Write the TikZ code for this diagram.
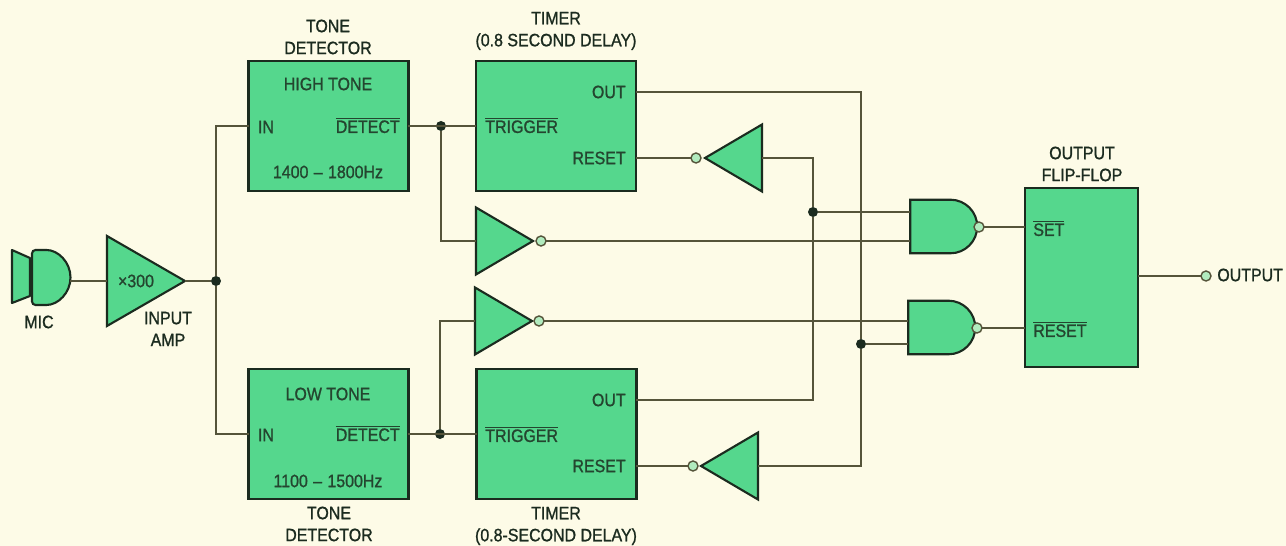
\documentclass[tikz,border=0pt]{standalone}
\usepackage{fontspec}
\setmainfont[FakeStretch=0.89,FakeBold=1.1]{Liberation Sans}
\usetikzlibrary{shapes.geometric,shapes.gates.logic.US}
\definecolor{paper}{HTML}{FDFBE7}
\definecolor{board}{HTML}{55D78D}
\definecolor{ink}{HTML}{1B2B1F}
\definecolor{wirecol}{HTML}{55543A}
\tikzset{
  lab/.style={font=\fontsize{10.2}{12.5}\selectfont,text=ink,inner sep=0pt,align=center},
  inlab/.style={lab,text=ink!85!board},
  blockbox/.style={draw=ink,fill=board,line width=1.5pt,minimum width=3.2cm,minimum height=2.6cm,outer sep=0pt},
  flopbox/.style={blockbox,minimum width=2.26cm,minimum height=3.58cm},
  wire/.style={draw=wirecol,line width=.8pt},
  joindot/.style={circle,fill=ink,inner sep=0pt,minimum size=.2cm},
  bubble/.style={circle,draw=wirecol,fill=board!45!paper,line width=.8pt,inner sep=0pt,minimum size=.2cm,outer sep=0pt},
  tri/.style={isosceles triangle,isosceles triangle stretches,draw=ink,fill=board,line width=1.2pt,inner sep=0pt,outer sep=0pt,minimum width=1.34cm,minimum height=1.14cm},
  ampshape/.style={tri,minimum width=1.8cm,minimum height=1.56cm},
  nandshape/.style={nand gate US,logic gate inputs=nn,draw=ink,fill=board,line width=1.2pt,inner sep=0pt,outer sep=0pt,minimum width=1.34cm,minimum height=1.04cm,logic gate inverted radius=.02cm}
}
\begin{document}
\begin{tikzpicture}[x=0.02cm,y=-0.02cm]
    \useasboundingbox (0,0) rectangle (1286,546);
    \fill[paper] (0,0) rectangle (1286,546);
    % microphone
    \filldraw[draw=ink,fill=board,line width=1.2pt,line join=round] (12,250) -- (30,258) -- (30,296) -- (12,303) -- cycle;
    \filldraw[draw=ink,fill=board,line width=1.2pt,rounded corners=2pt] (32,250) -- (43,250) arc[start angle=-90,end angle=90,radius=27.5] -- (32,305) -- cycle;
    \coordinate (micout) at (70,281);
    \node[lab] (miclab) at (39,322) {MIC};
    % input amp
    \node[ampshape,anchor=apex] (amp) at (185,281) {};
    \node[inlab] (amptext) at (136,281) {×300};
    \node[lab] (amplab) at (168,329) {INPUT\\AMP};
    \node[joindot] (dotin) at (216,281) {};
    % tone detectors
    \node[blockbox] (tonehi) at (328.5,126) {};
    \node[blockbox] (tonelo) at (328.5,434) {};
    \node[lab] (tonehilab) at (328,37) {TONE\\DETECTOR};
    \node[lab] (tonelolab) at (329,524) {TONE\\DETECTOR};
    \node[inlab] (hitone) at (328,84) {HIGH TONE};
    \node[inlab] (hiin) at (266,127) {IN};
    \node[inlab,anchor=east] (hidet) at (400,125) {$\overline{\mbox{DETECT}}$};
    \node[inlab] (hirange) at (328,172) {1400\hspace{.3em}–\hspace{.3em}1800Hz};
    \node[inlab] (lotone) at (328,394) {LOW TONE};
    \node[inlab] (loin) at (266,435) {IN};
    \node[inlab,anchor=east] (lodet) at (400,433) {$\overline{\mbox{DETECT}}$};
    \node[inlab] (lorange) at (328,481) {1100\hspace{.3em}–\hspace{.3em}1500Hz};
    % timers
    \node[blockbox] (timerhi) at (556,126) {};
    \node[blockbox] (timerlo) at (556.5,434) {};
    \node[lab] (timerhilab) at (556,31) {TIMER\\(0.8 SECOND DELAY)};
    \node[lab] (timerlolab) at (556,526) {TIMER\\(0.8-SECOND DELAY)};
    \node[inlab,anchor=east] (outhi) at (626,92) {OUT};
    \node[inlab,anchor=west] (trighi) at (485,125) {$\overline{\mbox{TRIGGER}}$};
    \node[inlab,anchor=east] (resethi) at (626,158) {RESET};
    \node[inlab,anchor=east] (outlo) at (626,400) {OUT};
    \node[inlab,anchor=west] (triglo) at (485,434) {$\overline{\mbox{TRIGGER}}$};
    \node[inlab,anchor=east] (resetlo) at (626,466) {RESET};
    % inverters
    \node[tri,anchor=apex] (invhi) at (533,241) {};
    \node[bubble] (bubhi) at (541,241) {};
    \node[tri,anchor=apex] (invlo) at (532,321) {};
    \node[bubble] (bublo) at (539,321) {};
    \node[tri,shape border rotate=180,anchor=apex] (invrhi) at (705,158) {};
    \node[bubble] (bubrhi) at (696,158) {};
    \node[tri,shape border rotate=180,anchor=apex] (invrlo) at (701,466) {};
    \node[bubble] (bubrlo) at (693,466) {};
    % output gates
    \node[nandshape] (nandhi) at (941.5,226.5) {};
    \node[nandshape] (nandlo) at (939.5,327.5) {};
    \node[bubble] (bubnhi) at (979,227) {};
    \node[bubble] (bubnlo) at (977,328) {};
    \node[joindot] (dota) at (813,212) {};
    \node[joindot] (dotb) at (861,344) {};
    % flip-flop
    \node[flopbox] (flop) at (1081.5,277.5) {};
    \node[lab] (floplab) at (1082,164) {OUTPUT\\FLIP-FLOP};
    \node[inlab,anchor=west] (setlab) at (1033,228) {$\overline{\mbox{SET}}$};
    \node[inlab,anchor=west] (rstlab) at (1033,329) {$\overline{\mbox{RESET}}$};
    \node[bubble] (bubout) at (1206,276) {};
    \node[lab,anchor=west] (outlab) at (1217,275) {OUTPUT};
    % junctions on the trigger lines
    \node[joindot] (dothi) at (441,126) {};
    \node[joindot] (dotlo) at (440,434) {};
    % connectors
    \draw[wire] (micout) -- (amp.lower side);
    \draw[wire] (amp.apex) -- (dotin);
    \draw[wire] (dotin) |- (tonehi.west);
    \draw[wire] (dotin) |- (tonelo.west);
    \draw[wire] (tonehi.east) -- (timerhi.west);
    \draw[wire] (tonelo.east) -- (timerlo.west);
    \draw[wire] (dothi) |- (invhi.lower side);
    \draw[wire] (dotlo) |- (invlo.lower side);
    \draw[wire] (bubhi) -- (bubhi -| nandhi.west);
    \draw[wire] (bublo) -- (bublo -| nandlo.west);
    \draw[wire] (bubrhi) -- (bubrhi -| timerhi.east);
    \draw[wire] (bubrlo) -- (bubrlo -| timerlo.east);
    \draw[wire] (timerhi.east |- outhi) -| (dotb);
    \draw[wire] (dotb) |- (invrlo.lower side);
    \draw[wire] (invrhi.lower side) -| (dota);
    \draw[wire] (dota) |- (timerlo.east |- outlo);
    \draw[wire] (dota) -- (dota -| nandhi.west);
    \draw[wire] (dotb) -- (dotb -| nandlo.west);
    \draw[wire] (bubnhi) -- (bubnhi -| flop.west);
    \draw[wire] (bubnlo) -- (bubnlo -| flop.west);
    \draw[wire] (flop.east |- bubout) -- (bubout);
\end{tikzpicture}
\end{document}
